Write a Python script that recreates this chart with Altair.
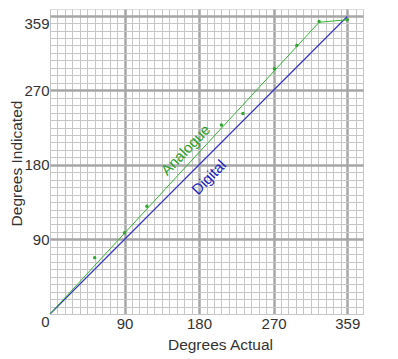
import altair as alt
import pandas as pd

# ---- data ----
digital_x = [0, 359]
digital_y = [0, 359]

analogue_line_x = [0, 325, 359]
analogue_line_y = [0, 352, 355]

analogue_pts_x = [54, 90, 117, 207, 233, 271, 298, 325, 359]
analogue_pts_y = [68, 98, 130, 228, 242, 296, 324, 353, 355]

ann_text = ["Analogue", "Digital"]
ann_x = [164, 192]
ann_y = [198, 165]

x_major = [90, 180, 270, 359]
y_major_labels = [0, 90, 180, 270, 359]
x_grid = list(range(0, 352, 9)) + [359, 369, 378]
y_grid = list(range(0, 352, 9)) + [359]

GRID_MINOR = "#c6c6c6"
GRID_MAJOR = "#a6a6a6"
TXT = "#333333"
FONT = "Liberation Sans"


def in_list(vals):
    return "indexof([" + ",".join(str(v) for v in vals) + "], datum.value) >= 0"


x_axis = alt.Axis(
    values=x_grid,
    grid=True,
    gridColor={"condition": {"test": in_list(x_major), "value": GRID_MAJOR}, "value": GRID_MINOR},
    gridWidth={"condition": {"test": in_list(x_major), "value": 2.5}, "value": 1},
    labelExpr=in_list(x_major) + " ? datum.label : ''",
    ticks=False,
    domain=False,
    labelPadding=2,
    labelFont=FONT,
    labelFontSize=15,
    labelColor=TXT,
    labelFlush=False,
    labelOverlap=False,
    title="Degrees Actual",
    titleFont=FONT,
    titleFontSize=15.5,
    titleFontWeight="normal",
    titleColor=TXT,
    titleX=170,
    titleY=30,
    titleBaseline="middle",
    titleAnchor="middle",
    titleAlign="center",
)

y_axis = alt.Axis(
    values=y_grid,
    grid=True,
    gridColor={"condition": {"test": in_list(x_major), "value": GRID_MAJOR}, "value": GRID_MINOR},
    gridWidth={"condition": {"test": in_list(x_major), "value": 2.5}, "value": 1},
    labelExpr=in_list(y_major_labels) + " ? datum.label : ''",
    labelBaseline={"condition": {"test": "datum.value == 0 || datum.value == 359", "value": "top"}, "value": "middle"},
    ticks=False,
    domain=False,
    labelPadding=1,
    labelFont=FONT,
    labelFontSize=15,
    labelColor=TXT,
    labelFlush=False,
    labelOverlap=False,
    title="Degrees Indicated",
    titleFont=FONT,
    titleFontSize=15.5,
    titleFontWeight="normal",
    titleColor=TXT,
    titleAngle=270,
    titleX=-34,
    titleY=154,
    titleBaseline="middle",
    titleAlign="center",
)

xs = alt.Scale(domain=[0, 378], nice=False, zero=False)
ys = alt.Scale(domain=[0, 368], nice=False, zero=False)


def X():
    return alt.X("x:Q", scale=xs, axis=x_axis)


def Y():
    return alt.Y("y:Q", scale=ys, axis=y_axis)


digital = alt.Chart(pd.DataFrame({"x": digital_x, "y": digital_y})).mark_line(
    color="#3535c8", strokeWidth=1.2
).encode(x=X(), y=Y())

analogue = alt.Chart(pd.DataFrame({"x": analogue_line_x, "y": analogue_line_y})).mark_line(
    color="#35b535", strokeWidth=1
).encode(x=X(), y=Y())

pts = alt.Chart(pd.DataFrame({"x": analogue_pts_x, "y": analogue_pts_y})).mark_circle(
    color="#2ea82e", size=12, opacity=1
).encode(x=X(), y=Y())

ann = alt.Chart(pd.DataFrame({"x": ann_x, "y": ann_y, "t": ann_text, "c": ["#2ca02c", "#2020c0"]})).mark_text(
    font=FONT, fontSize=15, angle=314, align="center", baseline="middle"
).encode(x=X(), y=Y(), text="t:N", color=alt.Color("c:N", scale=None))

chart = alt.layer(digital, analogue, pts, ann).properties(
    width=313,
    height=305,
    autosize=alt.AutoSizeParams(type="none"),
    padding={"left": 42, "top": 1, "right": 20, "bottom": 42},
).configure_view(stroke=None).configure(background="white")

chart.save("out.html", embed_options={"renderer": "svg", "actions": False})
